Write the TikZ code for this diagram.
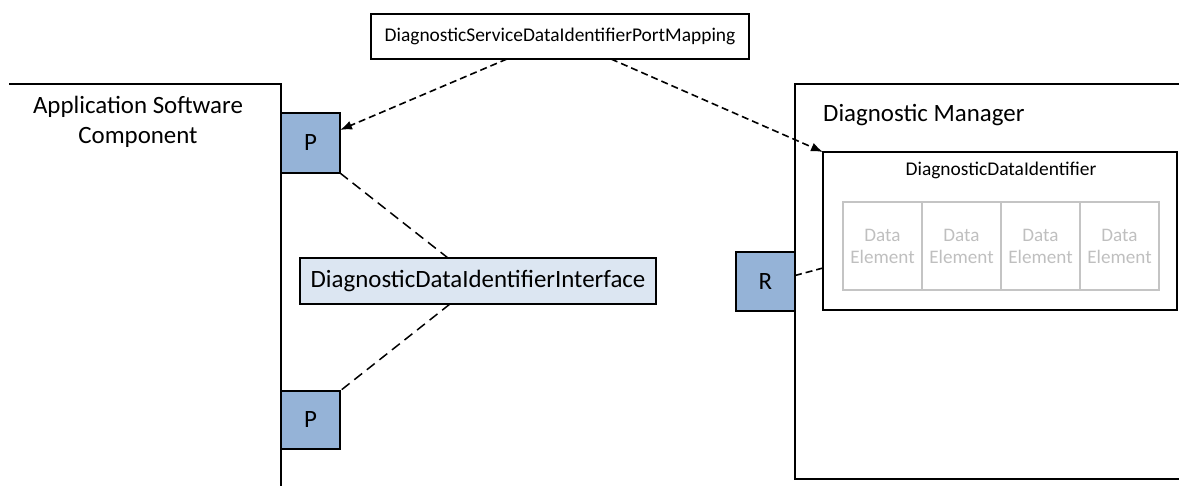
\documentclass[tikz,border=0pt]{standalone}
\usepackage{fontspec}
\setmainfont{Carlito}
\usetikzlibrary{arrows.meta,positioning,calc}
\definecolor{portblue}{HTML}{95B3D7}
\definecolor{ifblue}{HTML}{DCE6F2}
\definecolor{degray}{HTML}{C4C4C4}
\definecolor{detext}{HTML}{BFBFBF}
\begin{document}
\begin{tikzpicture}[x=1bp,y=-1bp,
  box/.style={draw=black, line width=1.6bp, inner sep=0pt, outer sep=0pt},
  port/.style={box, fill=portblue, minimum width=59bp, minimum height=59bp, font=\fontsize{25}{30}\selectfont},
  bigtext/.style={font=\fontsize{25}{30}\selectfont, inner sep=0pt},
  smalltext/.style={font=\fontsize{19.5}{23}\selectfont, inner sep=0pt},
  delem/.style={draw=degray, line width=1.3bp, minimum width=79bp, minimum height=88bp, inner sep=0pt, text=detext, align=center, font=\fontsize{19.2}{22}\selectfont},
  mapline/.style={line width=1.6bp, dash pattern=on 7bp off 4bp, -{Latex[length=12bp,width=9bp]}},
  ifline/.style={line width=1.5bp, dash pattern=on 10bp off 6bp},
  contline/.style={line width=1.6bp}
]
\useasboundingbox (0,0) rectangle (1179,486);

% containers
\draw[contline] (9,84) -- (281,84) -- (281,488);
\draw[contline] (1185,84) -- (795,84) -- (795,479) -- (1185,479);
\node[bigtext, align=center] (asclabel) at (138,121.5) {Application Software\\Component};
\node[bigtext, anchor=base west] (dmlabel) at (823,122) {Diagnostic Manager};

% nodes
\node[box, minimum width=378bp, minimum height=45bp, font=\fontsize{19.5}{23}\selectfont] (map) at (560,36.5) {DiagnosticServiceDataIdentifierPortMapping};
\node[port, minimum height=60bp] (p1) at (310.5,143) {P};
\node[port, minimum height=58bp] (p2) at (310.5,420) {P};
\node[port] (r) at (765.5,281.5) {R};
\node[box, fill=ifblue, minimum width=356bp, minimum height=46bp, font=\fontsize{25}{30}\selectfont] (iface) at (478,281) {DiagnosticDataIdentifierInterface};
\node[box, minimum width=354bp, minimum height=158bp] (ddi) at (1000,231) {};
\node[smalltext, anchor=base] (ddilabel) at (1001,176) {DiagnosticDataIdentifier};
\node[delem] (de1) at (882.5,246) {Data\\Element};
\node[delem] (de2) at (961.5,246) {Data\\Element};
\node[delem] (de3) at (1040.5,246) {Data\\Element};
\node[delem] (de4) at (1119.5,246) {Data\\Element};

% connectors
\draw[mapline] ([xshift=-53bp]map.south) -- ([yshift=13bp]p1.east);
\draw[mapline] ([xshift=51bp]map.south) -- (ddi.north west);
\draw[ifline] (p1.south east) -- ([xshift=-30bp]iface.north);
\draw[ifline] ([xshift=-28bp]iface.south) -- (p2.north east);
\draw[line width=1.6bp, dash pattern=on 7bp off 4bp] ([yshift=6bp]r.east) -- ([yshift=-37bp]ddi.west);
\end{tikzpicture}
\end{document}
